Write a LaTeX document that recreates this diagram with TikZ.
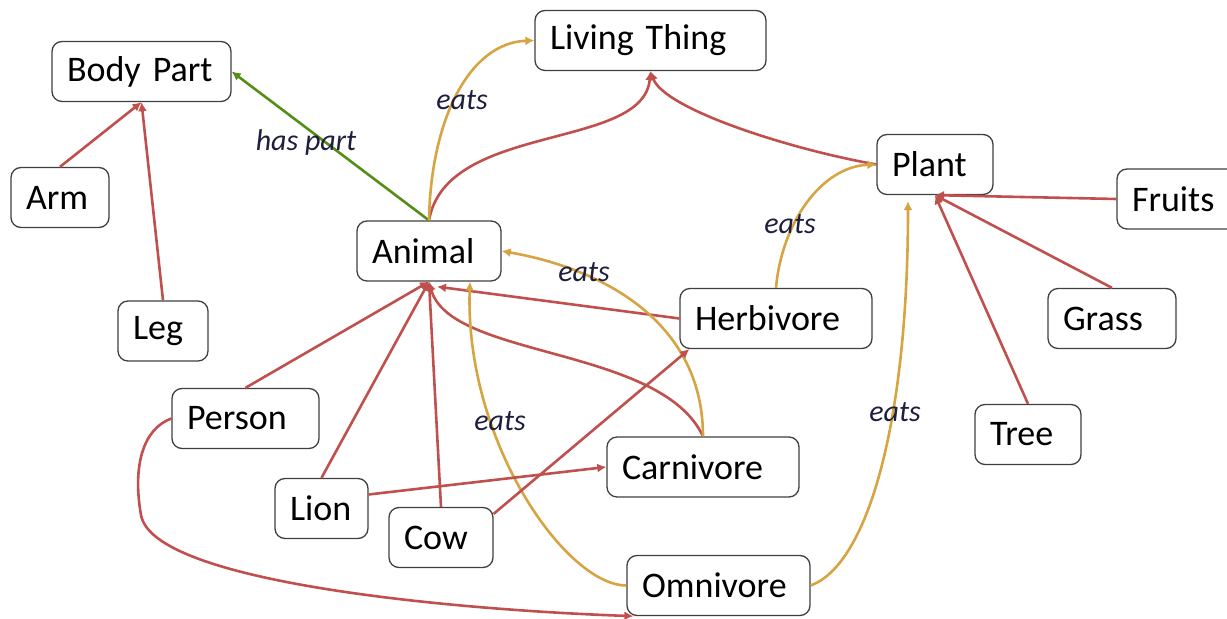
\documentclass[tikz,border=0pt]{standalone}
\usepackage{fontspec}
\setmainfont{Carlito}
\usetikzlibrary{arrows.meta}

\definecolor{isared}{RGB}{192,80,77}
\definecolor{eatgold}{RGB}{214,164,66}
\definecolor{partgreen}{RGB}{84,142,24}
\definecolor{lblnavy}{RGB}{30,30,62}

\tikzset{
  concept/.style={draw=black!75, line width=0.65pt, rounded corners=5pt, fill=white,
    inner xsep=7.5pt, inner ysep=0pt, minimum height=30pt, text width=#1, align=left,
    font=\fontsize{18}{21}\selectfont},
  isa/.style={draw=isared, line width=1.3pt, -{Latex[length=4.5pt,width=4.5pt]}},
  eatsarrow/.style={draw=eatgold, line width=1.3pt, -{Latex[length=4.5pt,width=4.5pt]}},
  haspart/.style={draw=partgreen, line width=1.3pt, -{Latex[length=4.5pt,width=4.5pt]}},
  lbl/.style={font=\fontsize{15}{17}\selectfont\itshape, text=lblnavy, inner sep=0pt}
}

\begin{document}
\begin{tikzpicture}[x=0.5pt, y=0.5pt]
  \useasboundingbox (0,0) rectangle (1227,-619);
  % Concepts
  \node[concept=74.5pt] (bodypart) at (141.5,-71.5) {Body Part};
  \node[concept=100.5pt] (living) at (650.5,-40.5) {Living Thing};
  \node[concept=34pt] (arm) at (60,-197.5) {Arm};
  \node[concept=30pt] (leg) at (163,-331) {Leg};
  \node[concept=57pt] (animal) at (429,-251) {Animal};
  \node[concept=43pt] (plant) at (935,-164.5) {Plant};
  \node[concept=45pt] (fruits) at (1177,-199) {Fruits};
  \node[concept=81pt] (herbivore) at (776,-318.5) {Herbivore};
  \node[concept=49pt] (grass) at (1112,-318.5) {Grass};
  \node[concept=58.5pt] (person) at (245.5,-418.5) {Person};
  \node[concept=38pt] (tree) at (1028,-434.5) {Tree};
  \node[concept=31.5pt] (lion) at (321.5,-508.5) {Lion};
  \node[concept=81pt] (carnivore) at (703,-467) {Carnivore};
  \node[concept=37pt] (cow) at (441,-537.5) {Cow};
  \node[concept=76.5pt] (omnivore) at (718.5,-585.5) {Omnivore};
  \coordinate (pbend) at (141,-515);
  % Body parts
  \draw[isa] (arm.north) -- (bodypart.south);
  \draw[isa] (leg.north) -- (bodypart.south);
  \draw[haspart] (animal.north) -- (bodypart.east);
  \node[lbl] (lblpart) at (306,-143) {has part};
  % Living things
  \draw[isa] (animal.north) .. controls +(80:100) and +(-95:80) .. (living.south);
  \draw[isa] (plant.west) .. controls +(170:90) and +(-70:40) .. (living.south);
  \draw[eatsarrow] (animal.north) .. controls +(89:101) and +(182:65) .. (living.west);
  \node[lbl] (lbleatsA) at (462,-100) {eats};
  % Plants
  \draw[isa] (fruits.west) -- (plant.south);
  \draw[isa] (grass.north) -- (plant.south);
  \draw[isa] (tree.north) -- (plant.south);
  \draw[eatsarrow] (herbivore.north) .. controls +(85:65) and +(182:55) .. (plant.west);
  \node[lbl] (lbleatsB) at (790,-224) {eats};
  \draw[eatsarrow, shorten >=3pt] (omnivore.east) .. controls +(20:60) and +(-90:230) .. ([xshift=-13.5pt]plant.south);
  \node[lbl] (lbleatsC) at (895,-412) {eats};
  % Animals
  \draw[isa] (person.north) -- (animal.south);
  \draw[isa] (lion.north) -- (animal.south);
  \draw[isa] (cow.north) -- (animal.south);
  \draw[isa] (herbivore.west) -- ([xshift=4pt,yshift=-2.5pt]animal.south);
  \draw[isa] (carnivore.north) .. controls +(115:100) and +(-75:80) .. (animal.south);
  \draw[eatsarrow] (carnivore.north) .. controls +(90:110) and +(-10:110) .. (animal.east);
  \node[lbl] (lbleatsD) at (584,-272) {eats};
  \draw[eatsarrow] (omnivore.west) .. controls +(180:60) and +(-92:160) .. ([xshift=20.5pt]animal.south);
  \node[lbl] (lbleatsE) at (500,-421) {eats};
  % Kinds of eaters
  \draw[isa] ([yshift=7pt]lion.east) -- (carnivore.west);
  \draw[isa] ([yshift=-3.5pt]cow.north east) -- ([xshift=5pt]herbivore.south west);
  \draw[isa] (person.west) .. controls +(200:30) and +(100:50) .. (pbend)
    .. controls +(-80:70) and +(178:170) .. ([xshift=3.5pt]omnivore.south west);
\end{tikzpicture}
\end{document}
